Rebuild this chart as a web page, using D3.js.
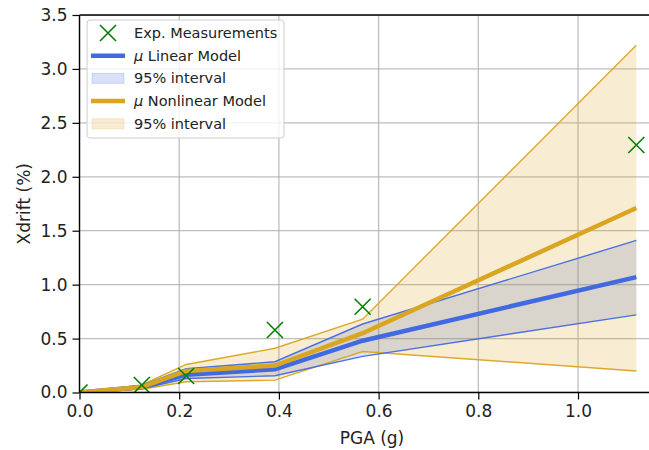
<!DOCTYPE html>
<html>
<head>
<meta charset="utf-8">
<script src="https://cdn.jsdelivr.net/npm/d3@7"></script>
<style>
  body { margin: 0; background: #fff; }
  svg { font-family: 'DejaVu Sans', sans-serif; }
</style>
</head>
<body>
<svg width="649" height="450"></svg>
<script>
// PGA values (g) and the drift readings / model outputs at each of them
const pga = [0, 0.125, 0.214, 0.392, 0.568, 1.117];
const measured = [0, 0.07, 0.153, 0.58, 0.795, 2.295];

const linMean = [0, 0.05, 0.165, 0.215, 0.48, 1.07];
const linLow = [0, 0.035, 0.13, 0.155, 0.335, 0.72];
const linHigh = [0, 0.065, 0.22, 0.285, 0.635, 1.41];

const nlMean = [0, 0.05, 0.2, 0.25, 0.55, 1.71];
const nlLow = [0, 0.03, 0.1, 0.115, 0.38, 0.2];
const nlHigh = [0, 0.07, 0.26, 0.41, 0.68, 3.22];

const xTicks = [0, 0.2, 0.4, 0.6, 0.8, 1.0];
const yTicks = [0, 0.5, 1.0, 1.5, 2.0, 2.5, 3.0, 3.5];

const blue = '#4169e1';
const gold = '#daa520';
const green = '#008000';
const tickFont = 17;
const legendFont = 14.5;

const margin = { top: 15, left: 79.5 };
const plotW = 585;
const plotH = 377.5;

const x = d3.scaleLinear().domain([0, 1.1735]).range([0, plotW]);
const y = d3.scaleLinear().domain([0, 3.5]).range([plotH, 0]);

const svg = d3.select('svg');
svg.append('defs').append('clipPath').attr('id', 'plot')
  .append('rect').attr('width', plotW).attr('height', plotH);

const g = svg.append('g').attr('transform', `translate(${margin.left},${margin.top})`);
const inner = g.append('g').attr('clip-path', 'url(#plot)');

// grid
inner.append('g').selectAll('line').data(xTicks).enter().append('line')
  .attr('x1', d => x(d)).attr('x2', d => x(d))
  .attr('y1', 0).attr('y2', plotH)
  .attr('stroke', '#b0b0b0').attr('stroke-width', 1.3).attr('opacity', 0.8);
inner.append('g').selectAll('line').data(yTicks).enter().append('line')
  .attr('x1', 0).attr('x2', plotW)
  .attr('y1', d => y(d)).attr('y2', d => y(d))
  .attr('stroke', '#b0b0b0').attr('stroke-width', 1.3).attr('opacity', 0.8);

const rows = (lo, mid, hi) => pga.map((p, i) => ({ x: p, lo: lo[i], mid: mid[i], hi: hi[i] }));
const linData = rows(linLow, linMean, linHigh);
const nlData = rows(nlLow, nlMean, nlHigh);

const area = d3.area().x(d => x(d.x)).y0(d => y(d.lo)).y1(d => y(d.hi));
const line = key => d3.line().x(d => x(d.x)).y(d => y(d[key]));

// band fills first, then their edges on top
[[linData, blue], [nlData, gold]].forEach(([data, color]) => {
  inner.append('path').datum(data).attr('d', area)
    .attr('fill', color).attr('fill-opacity', 0.2).attr('stroke', 'none');
});
[[nlData, gold], [linData, blue]].forEach(([data, color]) => {
  ['lo', 'hi'].forEach(k => {
    inner.append('path').datum(data).attr('d', line(k))
      .attr('fill', 'none').attr('stroke', color).attr('stroke-width', 1.4).attr('opacity', 0.95);
  });
});

inner.append('path').datum(linData).attr('d', line('mid'))
  .attr('fill', 'none').attr('stroke', blue).attr('stroke-width', 4.5);
inner.append('path').datum(nlData).attr('d', line('mid'))
  .attr('fill', 'none').attr('stroke', gold).attr('stroke-width', 4.5);

// measurements as x markers
const xMark = 'M-8,-8L8,8M-8,8L8,-8';
inner.append('g').selectAll('path').data(pga).enter().append('path')
  .attr('d', xMark)
  .attr('transform', (d, i) => `translate(${x(d)},${y(measured[i])})`)
  .attr('stroke', green).attr('stroke-width', 1.6).attr('fill', 'none');

// axes
const xAxis = d3.axisBottom(x).tickValues(xTicks).tickFormat(d3.format('.1f')).tickSize(7).tickPadding(5);
const yAxis = d3.axisLeft(y).tickValues(yTicks).tickFormat(d3.format('.1f')).tickSize(7).tickPadding(5);

const ax = g.append('g').attr('transform', `translate(0,${plotH})`).call(xAxis);
const ay = g.append('g').call(yAxis);
[ax, ay].forEach(a => {
  a.select('.domain').remove();
  a.selectAll('line').attr('stroke', '#000').attr('stroke-width', 1.2);
  a.selectAll('text').attr('font-size', tickFont).attr('fill', '#222').attr('font-family', 'DejaVu Sans');
});
g.append('line').attr('x1', 0).attr('x2', 0).attr('y1', 0).attr('y2', plotH).attr('stroke', '#000').attr('stroke-width', 1.4);
g.append('line').attr('x1', 0).attr('x2', plotW).attr('y1', plotH).attr('y2', plotH).attr('stroke', '#000').attr('stroke-width', 1.4);
g.append('line').attr('x1', 0).attr('x2', plotW).attr('y1', 0).attr('y2', 0).attr('stroke', '#000').attr('stroke-width', 1.4);

// axis labels
svg.append('text').text('PGA (g)')
  .attr('x', margin.left + plotW / 2).attr('y', 444)
  .attr('text-anchor', 'middle').attr('font-size', tickFont).attr('fill', '#222');
svg.append('text').text('Xdrift (%)')
  .attr('transform', `translate(30,${margin.top + plotH / 2}) rotate(-90)`)
  .attr('text-anchor', 'middle').attr('font-size', tickFont).attr('fill', '#222');

// legend
const legend = svg.append('g').attr('transform', 'translate(87,20)');
legend.append('rect').attr('width', 197).attr('height', 118).attr('rx', 3)
  .attr('fill', '#fff').attr('fill-opacity', 0.8).attr('stroke', '#cccccc');

const legendItems = [
  { label: 'Exp. Measurements', kind: 'mark', color: green },
  { label: 'Linear Model', kind: 'line', color: blue },
  { label: '95% interval', kind: 'band', color: blue },
  { label: 'Nonlinear Model', kind: 'line', color: gold },
  { label: '95% interval', kind: 'band', color: gold }
];

legendItems.forEach((it, i) => {
  const row = legend.append('g').attr('transform', `translate(0,${13 + i * 22.7})`);
  if (it.kind === 'mark') {
    row.append('path').attr('d', xMark).attr('transform', 'translate(21,0)')
      .attr('stroke', it.color).attr('stroke-width', 1.6).attr('fill', 'none');
  } else if (it.kind === 'line') {
    row.append('line').attr('x1', 4).attr('x2', 38).attr('y1', 0).attr('y2', 0)
      .attr('stroke', it.color).attr('stroke-width', 4.5);
  } else {
    row.append('rect').attr('x', 5).attr('y', -5).attr('width', 32).attr('height', 10)
      .attr('fill', it.color).attr('fill-opacity', 0.2)
      .attr('stroke', it.color).attr('stroke-opacity', 0.2);
  }
  const t = row.append('text').attr('x', 47).attr('y', 5).attr('font-size', legendFont).attr('fill', '#222');
  if (it.kind === 'line') {
    t.append('tspan').attr('font-style', 'italic').text('μ');
    t.append('tspan').text(' ' + it.label);
  } else {
    t.text(it.label);
  }
});
</script>
</body>
</html>
